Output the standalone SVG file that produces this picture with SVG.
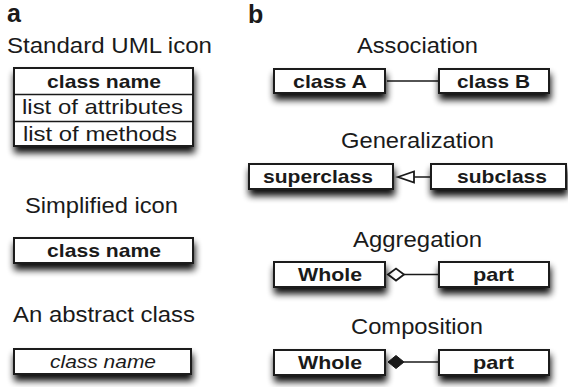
<svg xmlns="http://www.w3.org/2000/svg" width="568" height="387" viewBox="0 0 568 387">
<defs>
<filter id="sh" x="-20%" y="-40%" width="140%" height="220%">
<feGaussianBlur in="SourceAlpha" stdDeviation="3.5"/>
<feOffset dx="1" dy="6" result="b"/>
<feComponentTransfer in="b" result="c"><feFuncA type="linear" slope="0.95"/></feComponentTransfer>
<feMerge><feMergeNode in="c"/><feMergeNode in="SourceGraphic"/></feMerge>
</filter>
</defs>
<style>
text{font-family:"Liberation Sans",Arial,sans-serif;fill:#1a1a1a}
.h{font-size:22px}
.p{font-weight:bold;font-size:25px}
.n{font-weight:bold;font-size:19px}
.r{font-size:21px}
.i{font-style:italic;font-size:18px}
.box{fill:#fff;stroke:#1a1a1a;stroke-width:2}
.ln{stroke:#1a1a1a;stroke-width:1.5;fill:none}
</style>
<text class="p" x="7" y="22">a</text>
<text class="p" x="248" y="23">b</text>
<text class="h" x="7" y="53" textLength="205" lengthAdjust="spacingAndGlyphs">Standard UML icon</text>
<text class="h" x="25" y="213" textLength="153" lengthAdjust="spacingAndGlyphs">Simplified icon</text>
<text class="h" x="13" y="322" textLength="182" lengthAdjust="spacingAndGlyphs">An abstract class</text>
<text class="h" x="357" y="53" textLength="121" lengthAdjust="spacingAndGlyphs">Association</text>
<text class="h" x="341" y="148" textLength="153" lengthAdjust="spacingAndGlyphs">Generalization</text>
<text class="h" x="353" y="247" textLength="129" lengthAdjust="spacingAndGlyphs">Aggregation</text>
<text class="h" x="351" y="334" textLength="132" lengthAdjust="spacingAndGlyphs">Composition</text>

<g id="uml-class">
<g filter="url(#sh)"><rect class="box" x="14" y="68" width="179" height="78"/></g>
<line class="ln" x1="14" y1="94.5" x2="193" y2="94.5" stroke-width="2"/>
<line class="ln" x1="14" y1="121.5" x2="193" y2="121.5" stroke-width="2"/>
<text class="n" x="47" y="88" textLength="114" lengthAdjust="spacingAndGlyphs">class name</text>
<text class="r" x="22" y="114" textLength="161" lengthAdjust="spacingAndGlyphs">list of attributes</text>
<text class="r" x="23" y="141" textLength="154" lengthAdjust="spacingAndGlyphs">list of methods</text>
</g>
<g id="simplified">
<g filter="url(#sh)"><rect class="box" x="14" y="238" width="179" height="25"/></g>
<text class="n" x="47" y="257" textLength="114" lengthAdjust="spacingAndGlyphs">class name</text>
</g>
<g id="abstract">
<g filter="url(#sh)"><rect class="box" x="14" y="349" width="177" height="25"/></g>
<text class="i" x="50" y="368" textLength="106" lengthAdjust="spacingAndGlyphs">class name</text>
</g>

<g id="connectors">
<line class="ln" x1="387" y1="81" x2="438" y2="81"/>
<line class="ln" x1="413" y1="177" x2="430" y2="177"/>
<polygon points="398,177 414,171.5 414,182.5" fill="#fff" stroke="#1a1a1a" stroke-width="1.8"/>
<line class="ln" x1="404" y1="274.5" x2="438" y2="274.5"/>
<polygon points="388,274.5 396,268.5 404,274.5 396,280.5" fill="#fff" stroke="#1a1a1a" stroke-width="1.8"/>
<line class="ln" x1="404" y1="362" x2="438" y2="362"/>
<polygon points="388,362 396,355.5 404,362 396,368.5" fill="#1a1a1a" stroke="#1a1a1a" stroke-width="1"/>
</g>

<g id="classA">
<g filter="url(#sh)"><rect class="box" x="274" y="69" width="111" height="24"/></g>
<text class="n" x="293" y="88" textLength="74" lengthAdjust="spacingAndGlyphs">class A</text>
</g>
<g id="classB">
<g filter="url(#sh)"><rect class="box" x="439" y="69" width="110" height="24"/></g>
<text class="n" x="457" y="88" textLength="73" lengthAdjust="spacingAndGlyphs">class B</text>
</g>
<g id="superclass">
<g filter="url(#sh)"><rect class="box" x="249" y="164" width="144" height="25"/></g>
<text class="n" x="263" y="183" textLength="110" lengthAdjust="spacingAndGlyphs">superclass</text>
</g>
<g id="subclass">
<g filter="url(#sh)"><rect class="box" x="431" y="164" width="135" height="25"/></g>
<text class="n" x="457" y="183" textLength="90" lengthAdjust="spacingAndGlyphs">subclass</text>
</g>
<g id="whole1">
<g filter="url(#sh)"><rect class="box" x="274" y="262" width="111" height="25"/></g>
<text class="n" x="298" y="281" textLength="64" lengthAdjust="spacingAndGlyphs">Whole</text>
</g>
<g id="part1">
<g filter="url(#sh)"><rect class="box" x="439" y="262" width="110" height="25"/></g>
<text class="n" x="473" y="281" textLength="41" lengthAdjust="spacingAndGlyphs">part</text>
</g>
<g id="whole2">
<g filter="url(#sh)"><rect class="box" x="274" y="350" width="111" height="25"/></g>
<text class="n" x="298" y="369" textLength="64" lengthAdjust="spacingAndGlyphs">Whole</text>
</g>
<g id="part2">
<g filter="url(#sh)"><rect class="box" x="439" y="350" width="110" height="25"/></g>
<text class="n" x="473" y="369" textLength="41" lengthAdjust="spacingAndGlyphs">part</text>
</g>
</svg>
